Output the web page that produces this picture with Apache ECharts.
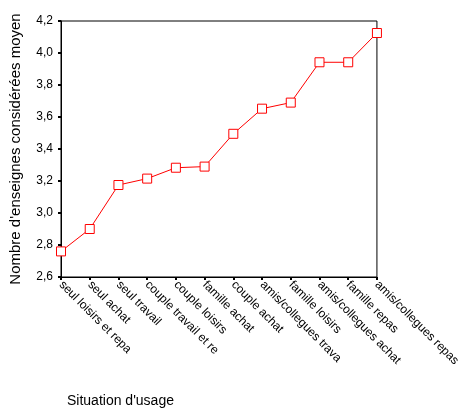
<!DOCTYPE html>
<html><head><meta charset="utf-8">
<script src="https://cdn.jsdelivr.net/npm/echarts@6/dist/echarts.min.js"></script>
<style>html,body{margin:0;padding:0;background:#fff}#c{width:463px;height:412px}</style>
</head><body><div id="c"></div>
<script>
const categories = ["seul loisirs et repa","seul achat","seul travail","couple travail et re","couple loisirs","famille achat","couple achat","amis/collegues trava","famille loisirs","amis/collegues achat","famille repas","amis/collegues repas"];
const values = [2.76, 2.90, 3.175, 3.215, 3.283, 3.29, 3.495, 3.652, 3.69, 3.942, 3.942, 4.125];
const yTicks = [2.6, 2.8, 3.0, 3.2, 3.4, 3.6, 3.8, 4.0, 4.2];
const yTitle = "Nombre d'enseignes considérées moyen";
const xTitle = "Situation d'usage";

const chart = echarts.init(document.getElementById('c'), null, {renderer:'canvas'});
const font = "'Liberation Sans', Arial, sans-serif";
chart.setOption({
  animation:false,
  backgroundColor:'#fff',
  title:{text:xTitle,left:62,top:389,textStyle:{fontFamily:font,fontSize:14,fontWeight:'normal',color:'#000'}},
  grid:{left:60,top:21,right:85,bottom:135,show:true,borderColor:'#000',borderWidth:1},
  xAxis:{type:'category',data:categories,boundaryGap:false,
    axisLine:{lineStyle:{color:'#000',width:1}},
    axisTick:{show:true,length:3,lineStyle:{color:'#000',width:2}},
    axisLabel:{rotate:-45,interval:0,margin:6,fontFamily:font,fontSize:12,color:'#000'},
    splitLine:{show:false}},
  yAxis:{type:'value',min:yTicks[0],max:yTicks[yTicks.length-1],interval:0.2,
    name:yTitle,nameLocation:'middle',nameRotate:90,nameGap:38,
    nameTextStyle:{fontFamily:font,fontSize:15,color:'#000'},
    axisLine:{show:true,lineStyle:{color:'#000',width:1}},
    axisTick:{show:true,length:3,lineStyle:{color:'#000',width:2}},
    axisLabel:{margin:8,fontFamily:font,fontSize:12,color:'#000',
      formatter:v=>v.toFixed(1).replace('.',',')},
    splitLine:{show:false}},
  series:[{type:'line',data:values,symbol:'rect',symbolSize:9,
    lineStyle:{color:'#ff0000',width:1},
    itemStyle:{color:'#fff',borderColor:'#ff0000',borderWidth:1}}]
});
</script></body></html>
